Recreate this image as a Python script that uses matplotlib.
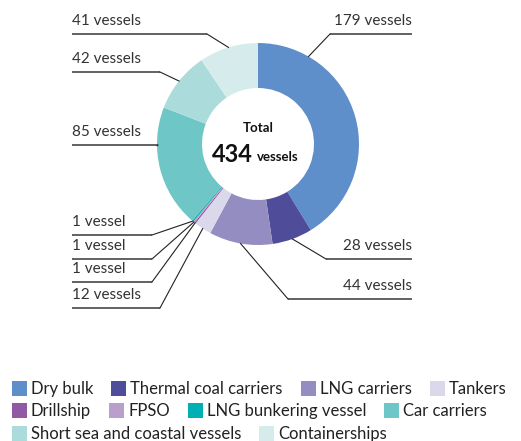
import numpy as np
import matplotlib
matplotlib.use("Agg")
import matplotlib.pyplot as plt
from matplotlib.patches import Rectangle

plt.rcParams['font.family'] = ['Lato', 'DejaVu Sans']

categories = ['Dry bulk', 'Thermal coal carriers', 'LNG carriers', 'Tankers',
              'Drillship', 'FPSO', 'LNG bunkering vessel', 'Car carriers',
              'Short sea and coastal vessels', 'Containerships']
vessels = [179, 28, 44, 12, 1, 1, 1, 85, 42, 41]
colors = ['#5f8fcb', '#4f4c99', '#948dc1', '#dcd8ec', '#8f5aa3',
          '#bb9fcb', '#00b0b2', '#6fc6c6', '#abdbda', '#d6ecec']
legend_rows = [[0, 1, 2, 3], [4, 5, 6, 7], [8, 9]]

W, H = 521, 441
cx, cy = 258, 144      # donut centre in pixels (from top)
R, ring = 101, 45

def Y(y):
    return H - y

fig = plt.figure(figsize=(W / 100, H / 100), dpi=100)
ax = fig.add_axes([0, 0, 1, 1])
wedges, _ = ax.pie(vessels, colors=colors, startangle=90, counterclock=False,
                   radius=R, center=(cx, Y(cy)),
                   wedgeprops=dict(width=ring, linewidth=0))
ax.set_xlim(0, W)
ax.set_ylim(0, H)
ax.set_aspect('equal')
ax.axis('off')

# label layout: (index, side, line y, elbow x, anchor angle override)
labels = [
    (0, 'right', 34, 330, 30),
    (1, 'right', 259, 326, None),
    (2, 'right', 299, 288, None),
    (3, 'left', 308, 160, None),
    (4, 'left', 282, 152, None),
    (5, 'left', 259, 152, None),
    (6, 'left', 235, 152, None),
    (7, 'left', 145, 158, 269),
    (8, 'left', 72, 160, None),
    (9, 'left', 34, 207, None),
]
total = sum(vessels)
cum = np.cumsum([0] + vessels)
for i, side, ly, ex, ang in labels:
    if ang is None:
        ang = (cum[i] + vessels[i] / 2) / total * 360
    a = np.radians(ang)
    px, py = cx + R * np.sin(a), cy - R * np.cos(a)
    n = vessels[i]
    txt = f"{n} vessel" + ("" if n == 1 else "s")
    if side == 'left':
        xs = [72, ex, px]
        ax.text(72, Y(ly - 6), txt, ha='left', va='bottom', fontsize=11, color='#333333')
    else:
        xs = [412, ex, px]
        ax.text(412, Y(ly - 6), txt, ha='right', va='bottom', fontsize=11, color='#333333')
    ax.plot(xs[:2], [Y(ly), Y(ly)], color='#555555', lw=1.3, solid_capstyle='butt')
    ax.plot(xs[1:], [Y(ly), Y(py)], color='#222222', lw=0.8)

ax.text(cx, Y(128), 'Total', ha='center', va='center', fontsize=9.5,
        fontweight='bold', color='#111111')
ax.text(253, Y(154), str(total), ha='right', va='center', fontsize=17,
        fontweight='bold', color='#111111')
ax.text(257, Y(157), 'vessels', ha='left', va='center', fontsize=9.5,
        fontweight='bold', color='#111111')

# legend, laid out as a flowing list
renderer = fig.canvas.get_renderer()
row_y = [381, 403, 426]
sq = 15
for r, row in enumerate(legend_rows):
    x = 12
    for i in row:
        ax.add_patch(Rectangle((x, Y(row_y[r] + sq)), sq, sq, color=colors[i], lw=0))
        t = ax.text(x + sq + 4, Y(row_y[r] + sq / 2 + 0.5), categories[i], ha='left',
                    va='center', fontsize=12, color='#222222')
        bb = t.get_window_extent(renderer)
        x = bb.x1 + 18

fig.savefig('out.png', dpi=100)
